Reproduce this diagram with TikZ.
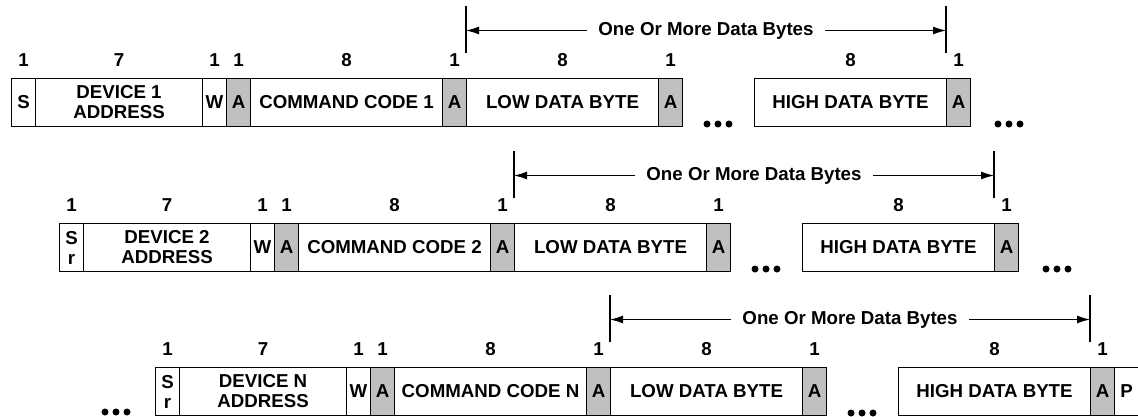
\documentclass[tikz,border=0pt]{standalone}
\usepackage{fontspec}
\setmainfont{Liberation Sans}
\usetikzlibrary{arrows.meta}
\definecolor{ackgray}{RGB}{192,192,192}
\newcommand\framerow[5]{%
\begin{scope}[shift={(#2,#3)}]
  \node[cell,minimum width=24pt]  (#1s)    at (11,0)  {#4};
  \node[cell,minimum width=167pt] (#1dev)  at (35,0)  {DEVICE #5\\ADDRESS};
  \node[cell,minimum width=24pt]  (#1w)    at (202,0) {W};
  \node[ack]                      (#1a1)   at (226,0) {A};
  \node[cell,minimum width=192pt] (#1cmd)  at (250,0) {COMMAND CODE #5};
  \node[ack]                      (#1a2)   at (442,0) {A};
  \node[cell,minimum width=192pt] (#1low)  at (466,0) {LOW DATA BYTE};
  \node[ack]                      (#1a3)   at (658,0) {A};
  \node[cell,minimum width=192pt] (#1high) at (754,0) {HIGH DATA BYTE};
  \node[ack]                      (#1a4)   at (946,0) {A};
  % bit counts
  \node (#1ns)   at ([yshift=18pt]#1s.north)    {1};
  \node (#1ndev) at ([yshift=18pt]#1dev.north)  {7};
  \node (#1nw)   at ([yshift=18pt]#1w.north)    {1};
  \node (#1na1)  at ([yshift=18pt]#1a1.north)   {1};
  \node (#1ncmd) at ([yshift=18pt]#1cmd.north)  {8};
  \node (#1na2)  at ([yshift=18pt]#1a2.north)   {1};
  \node (#1nlow) at ([yshift=18pt]#1low.north)  {8};
  \node (#1na3)  at ([yshift=18pt]#1a3.north)   {1};
  \node (#1nhigh) at ([yshift=18pt]#1high.north) {8};
  \node (#1na4)  at ([yshift=18pt]#1a4.north)   {1};
  % data byte span
  \coordinate (#1lt) at (466,-72);  \coordinate (#1lb) at (466,-25);
  \coordinate (#1rt) at (946,-72);  \coordinate (#1rb) at (946,-25);
  \coordinate (#1la) at (466,-47.5); \coordinate (#1ra) at (946,-47.5);
  \draw[bar] (#1lt) -- (#1lb);
  \draw[bar] (#1rt) -- (#1rb);
  \node[spantext] (#1txt) at (706,-47.5) {One Or More Data Bytes};
  \draw[spanarrow] (#1txt.west) -- (#1la);
  \draw[spanarrow] (#1txt.east) -- (#1ra);
  % continuation dots between data bytes
  \fill (707,46) circle (3.5pt) (718,46) circle (3.5pt) (729,46) circle (3.5pt);
\end{scope}}
\begin{document}
\begin{tikzpicture}[x=1pt,y=-1pt,
  every node/.style={font=\fontsize{18.7}{20}\selectfont\bfseries, inner sep=0pt},
  cell/.style={draw, line width=1.1pt, minimum height=48pt, anchor=north west, align=center},
  ack/.style={cell, fill=ackgray, minimum width=24pt},
  bar/.style={line width=1.1pt},
  spantext/.style={inner xsep=11pt},
  spanarrow/.style={line width=1.1pt, -{Latex[length=13pt,width=8pt]}}]
\useasboundingbox (0,0) rectangle (1138,416);
\framerow{r1}{0}{78}{S}{1}
\framerow{r2}{48}{223}{S\\r}{2}
\framerow{r3}{144}{367}{S\\r}{N}
% trailing dots, rows 1 and 2
\fill (998,124) circle (3.5pt) (1009,124) circle (3.5pt) (1020,124) circle (3.5pt);
\fill (1046,269) circle (3.5pt) (1057,269) circle (3.5pt) (1068,269) circle (3.5pt);
% leading dots, row 3
\fill (105,412) circle (3.5pt) (116,412) circle (3.5pt) (127,412) circle (3.5pt);
% stop bit
\node[cell,minimum width=24pt] (r3p) at (1114,367) {P};
\end{tikzpicture}
\end{document}
